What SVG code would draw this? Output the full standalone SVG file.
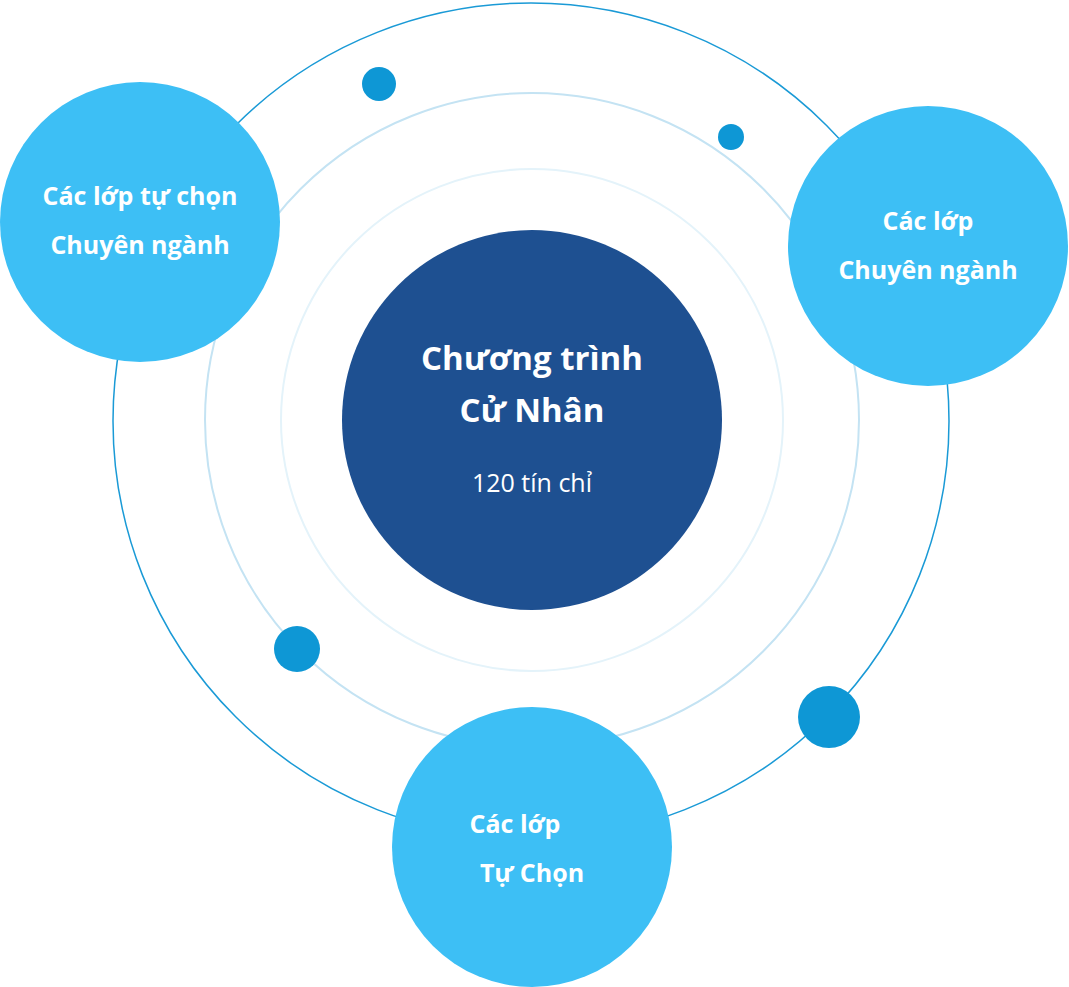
<svg xmlns="http://www.w3.org/2000/svg" width="1069" height="987" viewBox="0 0 1069 987">
<style>
.t{font-family:"Open Sans","Noto Sans",sans-serif;fill:#fff;text-anchor:middle}
.b{font-weight:700;font-size:25px}
.sat{fill:#3dbff5}
.dot{fill:#0e97d5}
</style>
<rect width="1069" height="987" fill="#fff"/>
<g id="rings" fill="none">
<circle cx="531" cy="421" r="418" stroke="#1a9ad6" stroke-width="1.5"/>
<circle cx="532" cy="420" r="327" stroke="#c4e3f3" stroke-width="2"/>
<circle cx="532" cy="420" r="251" stroke="#e4f3fa" stroke-width="2"/>
</g>
<g id="dots">
<circle class="dot" cx="379" cy="84" r="17"/>
<circle class="dot" cx="731" cy="137" r="13"/>
<circle class="dot" cx="297" cy="649" r="23"/>
<circle class="dot" cx="829" cy="717" r="31"/>
</g>
<g id="center">
<circle cx="532" cy="420" r="190" fill="#1e5091"/>
<text class="t" x="532" y="370" font-size="33" font-weight="700">Chương trình</text>
<text class="t" x="532" y="422" font-size="33" font-weight="700">Cử Nhân</text>
<text class="t" x="532" y="492" font-size="25">120 tín chỉ</text>
</g>
<g id="left">
<circle class="sat" cx="140" cy="222" r="140"/>
<text class="t b" x="140" y="205">Các lớp tự chọn</text>
<text class="t b" x="140" y="254">Chuyên ngành</text>
</g>
<g id="right">
<circle class="sat" cx="928" cy="246" r="140"/>
<text class="t b" x="928" y="230">Các lớp</text>
<text class="t b" x="928" y="279">Chuyên ngành</text>
</g>
<g id="bottom">
<circle class="sat" cx="532" cy="847" r="140"/>
<text class="t b" x="515" y="833">Các lớp</text>
<text class="t b" x="532" y="882">Tự Chọn</text>
</g>
<g id="connectors"/>
</svg>
